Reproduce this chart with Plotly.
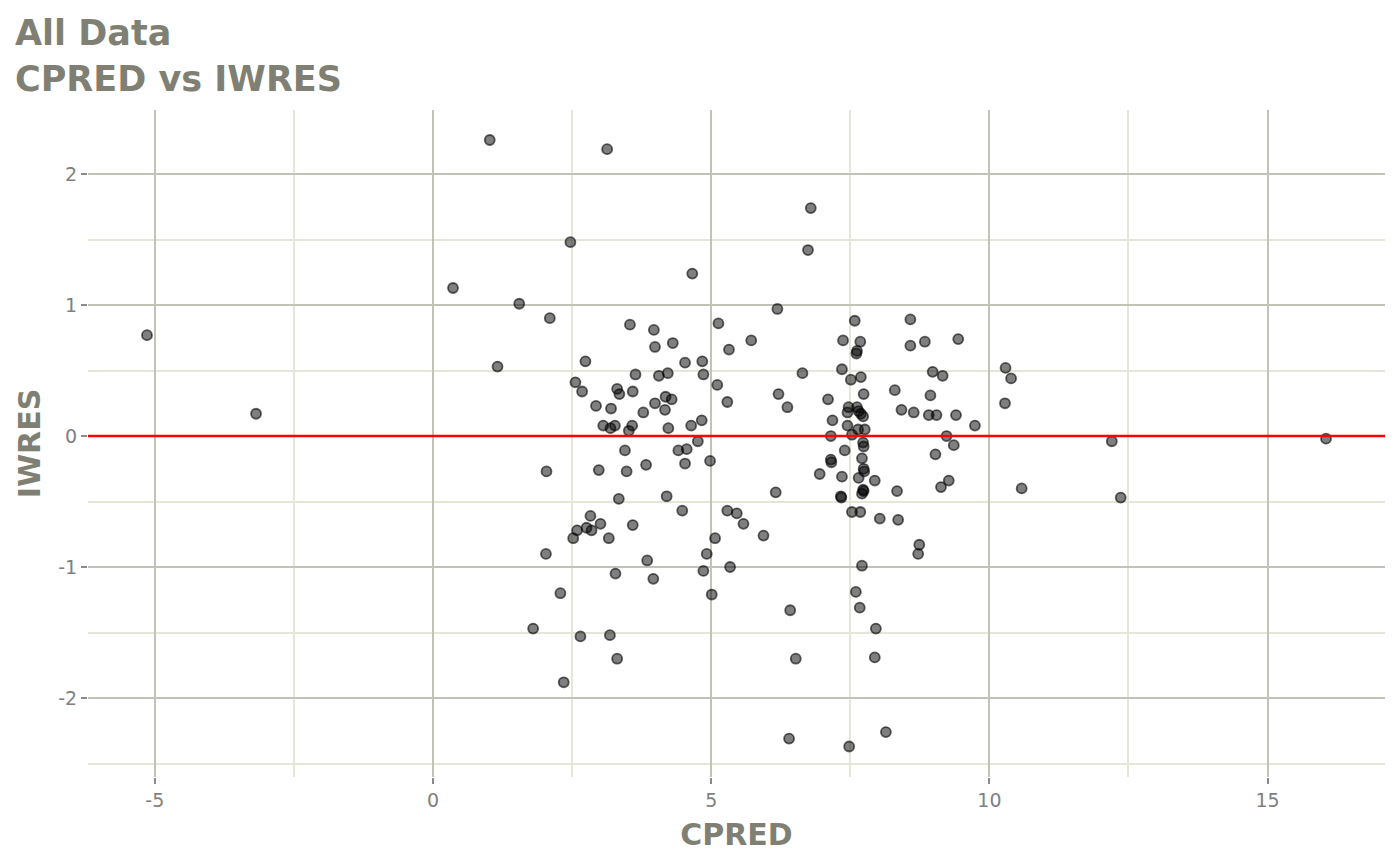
import plotly.graph_objects as go

# CPRED / IWRES pairs
cpred = [
    -5.14, -3.18, 0.36, 1.02, 1.16, 1.55, 2.10, 2.04, 2.03, 1.80,
    2.29, 2.35, 2.47, 3.13, 2.65, 3.18, 3.31, 4.66, 3.54, 3.97,
    5.13, 3.99, 4.31, 5.72, 5.32, 2.74, 4.53, 4.84, 3.64, 4.06,
    4.22, 4.86, 2.56, 5.11, 2.68, 3.31, 3.35, 3.59, 4.18, 4.29,
    5.29, 2.93, 3.20, 3.78, 3.99, 4.17, 4.83, 3.06, 3.19, 3.27,
    3.58, 3.52, 4.23, 4.64, 4.76, 3.45, 4.41, 4.56, 2.98, 3.48,
    3.83, 4.53, 4.98, 3.34, 4.20, 4.48, 5.29, 5.46, 5.58, 2.83,
    3.01, 2.76, 2.59, 2.85, 3.59, 2.52, 3.16, 5.07, 4.92, 3.85,
    4.86, 5.34, 3.28, 3.96, 5.01, 6.19, 7.58, 8.58, 7.37, 7.68,
    7.62, 7.61, 8.58, 8.84, 9.44, 6.64, 7.35, 7.69, 7.51, 8.98,
    9.16, 10.29, 10.39, 6.21, 6.37, 7.10, 7.74, 8.30, 8.94, 10.28,
    7.47, 7.62, 7.45, 7.69, 7.73, 7.65, 8.42, 8.64, 8.91, 9.05,
    9.40, 9.74, 7.18, 7.45, 7.64, 7.76, 7.15, 7.53, 9.23, 9.36,
    7.73, 7.74, 7.40, 9.03, 7.15, 7.16, 7.71, 7.74, 7.75, 6.95,
    7.35, 7.65, 7.94, 9.27, 9.13, 6.16, 7.73, 7.74, 7.71, 8.34,
    7.33, 7.34, 7.53, 7.68, 8.03, 8.36, 5.94, 8.74, 8.72, 7.71,
    7.60, 7.67, 6.42, 7.96, 6.52, 7.94, 6.40, 7.48, 8.14, 6.74,
    6.79, 12.20, 12.36, 10.58, 16.05,
]
iwres = [
    0.77, 0.17, 1.13, 2.26, 0.53, 1.01, 0.90, -0.27, -0.90, -1.47,
    -1.20, -1.88, 1.48, 2.19, -1.53, -1.52, -1.70, 1.24, 0.85, 0.81,
    0.86, 0.68, 0.71, 0.73, 0.66, 0.57, 0.56, 0.57, 0.47, 0.46,
    0.48, 0.47, 0.41, 0.39, 0.34, 0.36, 0.32, 0.34, 0.30, 0.28,
    0.26, 0.23, 0.21, 0.18, 0.25, 0.20, 0.12, 0.08, 0.06, 0.08,
    0.08, 0.04, 0.06, 0.08, -0.04, -0.11, -0.11, -0.10, -0.26, -0.27,
    -0.22, -0.21, -0.19, -0.48, -0.46, -0.57, -0.57, -0.59, -0.67, -0.61,
    -0.67, -0.70, -0.72, -0.72, -0.68, -0.78, -0.78, -0.78, -0.90, -0.95,
    -1.03, -1.00, -1.05, -1.09, -1.21, 0.97, 0.88, 0.89, 0.73, 0.72,
    0.65, 0.63, 0.69, 0.72, 0.74, 0.48, 0.51, 0.45, 0.43, 0.49,
    0.46, 0.52, 0.44, 0.32, 0.22, 0.28, 0.32, 0.35, 0.31, 0.25,
    0.22, 0.22, 0.18, 0.17, 0.15, 0.19, 0.20, 0.18, 0.16, 0.16,
    0.16, 0.08, 0.12, 0.08, 0.05, 0.05, 0.00, 0.01, 0.00, -0.07,
    -0.05, -0.08, -0.11, -0.14, -0.18, -0.20, -0.17, -0.25, -0.27, -0.29,
    -0.31, -0.32, -0.34, -0.34, -0.39, -0.43, -0.41, -0.42, -0.44, -0.42,
    -0.46, -0.47, -0.58, -0.58, -0.63, -0.64, -0.76, -0.83, -0.90, -0.99,
    -1.19, -1.31, -1.33, -1.47, -1.70, -1.69, -2.31, -2.37, -2.26, 1.42,
    1.74, -0.04, -0.47, -0.40, -0.02,
]

# tick labels (ggplot style hyphen minus)
x_ticks = [-5, 0, 5, 10, 15]
x_labels = ["-5", "0", "5", "10", "15"]
y_ticks = [-2, -1, 0, 1, 2]
y_labels = ["-2", "-1", "0", "1", "2"]

title_col = "#7f7f73"
tick_col = "#808080"
major_col = "#c2c2b6"
minor_col = "#e6e6d8"

W, H = 1392, 857
ML, MR, MT, MB = 80, 15, 102, 88

fig = go.Figure()

fig.add_trace(go.Scatter(
    x=cpred, y=iwres, mode="markers",
    marker=dict(size=10, color="rgba(0,0,0,0.5)",
                line=dict(color="rgba(0,0,0,0.6)", width=1.8)),
    showlegend=False, hoverinfo="x+y",
))

fig.add_hline(y=0, line_color="red", line_width=2.5, layer="above")

axis_common = dict(
    showline=False, zeroline=False,
    showgrid=True, gridcolor=major_col, gridwidth=2,
    ticks="outside", ticklen=6, tickwidth=2, tickcolor="#8a8a8a",
    tickfont=dict(family="DejaVu Sans", size=19, color=tick_col),
    tickmode="array",
)

fig.update_xaxes(
    range=[-6.2, 17.11], tickvals=x_ticks, ticktext=x_labels,
    minor=dict(tickmode="linear", tick0=0, dtick=2.5, showgrid=True,
               gridcolor=minor_col, gridwidth=2),
    title=dict(text="CPRED", standoff=14,
               font=dict(family="DejaVu Sans", size=30, color=title_col, weight="bold")),
    **axis_common,
)
fig.update_yaxes(
    range=[-2.603, 2.489], tickvals=y_ticks, ticktext=y_labels,
    minor=dict(tickmode="linear", tick0=0, dtick=0.5, showgrid=True,
               gridcolor=minor_col, gridwidth=2),
    title=dict(text="IWRES", standoff=8,
               font=dict(family="DejaVu Sans", size=30, color=title_col, weight="bold")),
    **axis_common,
)

pw = W - ML - MR
ph = H - MT - MB
fig.add_annotation(
    text="All Data<br>CPRED vs IWRES",
    xref="paper", yref="paper",
    x=(5 - ML) / pw, y=1 + (MT - 3) / ph,
    xanchor="left", yanchor="top", align="left", showarrow=False,
    font=dict(family="DejaVu Sans", size=35, color=title_col, weight="bold"),
)

fig.update_layout(
    width=W, height=H,
    paper_bgcolor="white", plot_bgcolor="white",
    margin=dict(l=ML, r=MR, t=MT, b=MB),
)

fig.write_html("out.html")
